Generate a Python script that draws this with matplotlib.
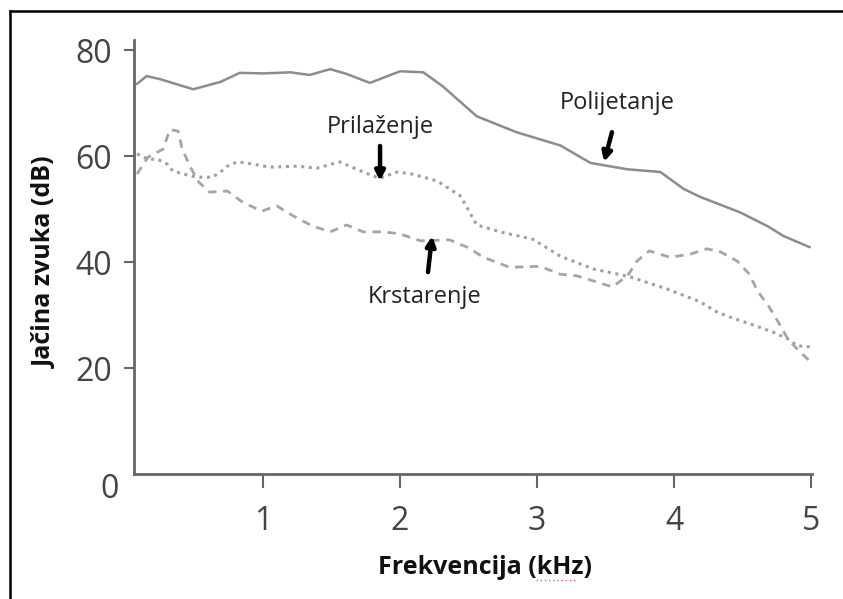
import matplotlib.pyplot as plt
from matplotlib.lines import Line2D

plt.rcParams['font.family'] = ['Open Sans', 'DejaVu Sans']

# Polijetanje (puna linija)
pol_x = [0.08, 0.15, 0.25, 0.49, 0.69, 0.83, 1.0, 1.2, 1.34, 1.49, 1.61, 1.78, 2.0, 2.17, 2.31,
         2.56, 2.85, 3.17, 3.39, 3.66, 3.9, 4.07, 4.19, 4.48, 4.68, 4.8, 4.99]
pol_y = [73.6, 75.1, 74.5, 72.6, 74.0, 75.7, 75.6, 75.8, 75.3, 76.4, 75.5, 73.8, 76.0, 75.8, 73.2,
         67.5, 64.5, 62.0, 58.7, 57.5, 57.0, 53.8, 52.3, 49.4, 46.8, 44.9, 42.8]

# Prilaženje (tačkasta linija)
pri_x = [0.08, 0.16, 0.23, 0.30, 0.34, 0.42, 0.48, 0.55, 0.63, 0.69, 0.74, 0.81, 0.88, 1.05, 1.25,
         1.39, 1.56, 1.73, 1.85, 1.98, 2.09, 2.27, 2.44, 2.56, 2.73, 2.97, 3.17, 3.41, 3.68, 3.95,
         4.19, 4.31, 4.43, 4.58, 4.72, 4.83, 4.90, 4.99]
pri_y = [60.4, 59.4, 59.4, 58.5, 57.2, 56.6, 56.2, 56.0, 56.0, 57.0, 58.1, 58.9, 58.7, 57.9, 58.1,
         57.7, 58.9, 57.0, 55.8, 57.0, 56.6, 55.3, 52.5, 47.0, 45.7, 44.3, 41.1, 38.7, 37.2, 34.9,
         32.5, 30.6, 29.4, 28.1, 26.8, 25.5, 24.2, 24.0]

# Krstarenje (isprekidana linija)
krs_x = [0.08, 0.16, 0.27, 0.32, 0.38, 0.41, 0.47, 0.53, 0.61, 0.74, 0.85, 0.99, 1.10, 1.22, 1.36,
         1.49, 1.61, 1.73, 1.88, 2.0, 2.15, 2.36, 2.49, 2.61, 2.80, 3.02, 3.17, 3.29, 3.44, 3.55,
         3.66, 3.73, 3.82, 3.97, 4.12, 4.24, 4.34, 4.46, 4.55, 4.61, 4.69, 4.76, 4.83, 4.92, 5.0]
krs_y = [56.6, 59.8, 61.3, 65.0, 64.7, 61.3, 57.9, 55.1, 53.2, 53.4, 51.3, 49.6, 50.6, 48.7, 46.8,
         45.7, 47.0, 45.7, 45.7, 45.3, 44.0, 44.2, 42.8, 40.9, 39.0, 39.2, 37.7, 37.4, 36.2, 35.3,
         37.4, 40.2, 42.1, 40.9, 41.5, 42.5, 41.9, 40.2, 37.7, 34.5, 31.7, 28.7, 25.5, 23.0, 21.1]

x_ticks = [1, 2, 3, 4, 5]
y_ticks = [20, 40, 60, 80]

fig = plt.figure(figsize=(8.43, 5.99), dpi=100)
ax = fig.add_axes([134 / 843, 1 - 474 / 599, (812 - 134) / 843, (474 - 40) / 599])

ax.plot(pol_x, pol_y, color='#8c8c8c', lw=1.8, solid_capstyle='round', solid_joinstyle='round')
ax.plot(pri_x, pri_y, color='#a0a0a0', lw=2.2, linestyle=(0, (1, 1.5)))
ax.plot(krs_x, krs_y, color='#a5a5a5', lw=2.0, linestyle=(0, (3, 2.4)))

ax.set_xlim(0.058, 5.007)
ax.set_ylim(0, 81.9)

for s in ['top', 'right']:
    ax.spines[s].set_visible(False)
for s in ['left', 'bottom']:
    ax.spines[s].set_color('#666666')
    ax.spines[s].set_linewidth(2)

ax.set_xticks(x_ticks)
ax.set_yticks(y_ticks)
ax.tick_params(axis='y', length=7, width=1.5, color='#666666', labelsize=23,
               labelcolor='#444444', pad=9)
ax.tick_params(axis='x', length=10, width=1.5, color='#666666', labelsize=23,
               labelcolor='#444444', pad=12)
ax.text(-0.124, -3.0, '0', fontsize=23, color='#444444', ha='center', va='center', clip_on=False)

ax.set_xlabel('Frekvencija (kHz)', fontsize=18, fontweight='bold', color='#111111')
ax.set_ylabel('Jačina zvuka (dB)', fontsize=18, fontweight='bold', color='#111111')
ax.xaxis.set_label_coords((485 - 134) / (812 - 134), -(555 - 474) / (474 - 40))
ax.yaxis.set_label_coords(-(134 - 58) / (812 - 134), (474 - 262) / (474 - 40))

# natpisi sa strelicama
arrow = dict(arrowstyle='-|>,head_length=0.55,head_width=0.28', color='black', lw=3.2,
             shrinkA=0, shrinkB=0)
ax.text(1.854, 65.5, 'Prilaženje', fontsize=17, color='#222222', ha='center', va='center')
ax.annotate('', xy=(1.854, 55.3), xytext=(1.854, 61.9), arrowprops=arrow)
ax.text(3.584, 70.0, 'Polijetanje', fontsize=17, color='#222222', ha='center', va='center')
ax.annotate('', xy=(3.489, 58.9), xytext=(3.547, 64.5), arrowprops=arrow)
ax.text(2.18, 33.4, 'Krstarenje', fontsize=17, color='#222222', ha='center', va='center')
ax.annotate('', xy=(2.234, 44.9), xytext=(2.204, 38.1), arrowprops=arrow)

# crvena tačkasta linija ispod "kHz" (kao u originalu)
fig.add_artist(Line2D([536 / 843, 576 / 843], [1 - 580 / 599, 1 - 580 / 599],
                      color='#e06060', lw=1, linestyle=(0, (1, 2))))

# okvir slike (gore i lijevo)
fig.add_artist(Line2D([10 / 843, 1], [1 - 11 / 599, 1 - 11 / 599], color='black', lw=1.8))
fig.add_artist(Line2D([10 / 843, 10 / 843], [0, 1 - 11 / 599], color='black', lw=1.8))

fig.savefig('out.png', dpi=100)
